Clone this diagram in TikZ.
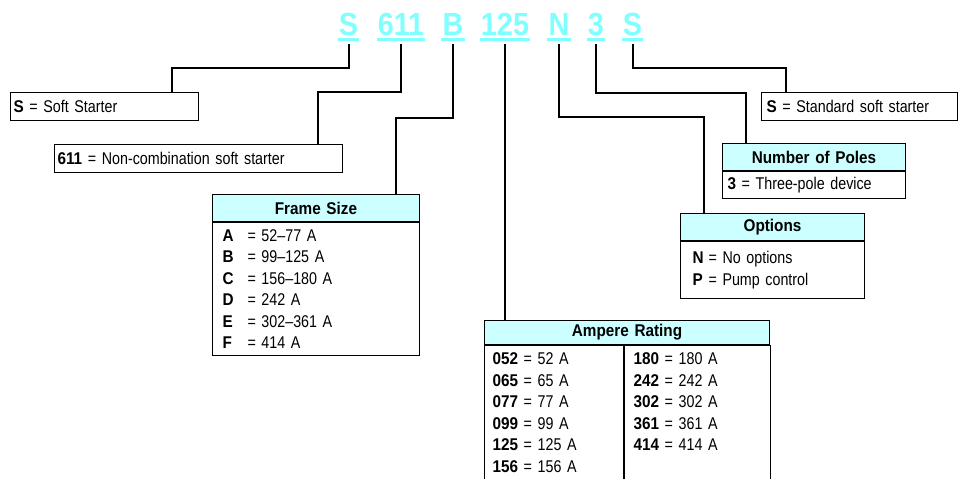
\documentclass[tikz,border=0pt]{standalone}
\usepackage{fontspec}
\setmainfont[UprightFeatures={FakeStretch=0.84},BoldFeatures={FakeStretch=0.9}]{Liberation Sans}
\usetikzlibrary{positioning}
\definecolor{codecyan}{RGB}{128,255,255}
\definecolor{headcyan}{RGB}{204,255,255}

\begin{document}
\begin{tikzpicture}[x=1pt,y=-1pt,
  code/.style={anchor=base,font=\fontsize{32}{32}\selectfont\bfseries,text=codecyan,inner xsep=1pt,inner ysep=4pt,text depth=0pt},
  uline/.style={draw=codecyan,line width=3pt},
  wire/.style={line width=2pt},
  onebox/.style={draw,line width=1pt,anchor=north west,inner ysep=0pt,align=left,font=\fontsize{17}{21.5}\selectfont},
  head/.style={draw,line width=1pt,fill=headcyan,inner sep=0pt,align=center,font=\fontsize{17}{21.5}\selectfont\bfseries},
  body/.style={draw,line width=1pt,inner ysep=0pt,align=left,font=\fontsize{17}{21.5}\selectfont}]
\useasboundingbox (0,0) rectangle (958,479);

\node[code] (cS) at (348.5,35) {S};
\node[code] (c611) at (401,35) {611};
\node[code] (cB) at (453,35) {B};
\node[code] (c125) at (505,35) {125};
\node[code] (cN) at (559,35) {N};
\node[code] (c3) at (596,35) {3};
\node[code] (cS2) at (632.5,35) {S};
\foreach \c in {cS,c611,cB,c125,cN,c3,cS2}
  \draw[uline] (\c.south west) -- (\c.south east);

\node[onebox,text width=182pt,inner xsep=3pt,minimum height=28pt] (boxS) at (10,92) {\textbf{S} = Soft Starter};
\node[onebox,text width=282pt,inner xsep=3pt,minimum height=28pt] (box611) at (54,144) {\textbf{611} = Non-combination soft starter};
\node[onebox,text width=186pt,inner xsep=5pt,minimum height=28pt] (boxS2) at (761,92) {\textbf{S} = Standard soft starter};

\node[head,anchor=north west,text width=207pt,minimum height=27pt] (frameH) at (212,194) {Frame Size};
\node[body,below=0pt of frameH,text width=187pt,inner xsep=10pt,minimum height=133pt] (frameB) {%
  \makebox[25pt][l]{\textbf{A}}= 52–77 A\\
  \makebox[25pt][l]{\textbf{B}}= 99–125 A\\
  \makebox[25pt][l]{\textbf{C}}= 156–180 A\\
  \makebox[25pt][l]{\textbf{D}}= 242 A\\
  \makebox[25pt][l]{\textbf{E}}= 302–361 A\\
  \makebox[25pt][l]{\textbf{F}}= 414 A};

\node[head,anchor=north west,text width=183pt,minimum height=27pt] (polesH) at (722,143) {Number of Poles};
\node[body,below=0pt of polesH,text width=173pt,inner xsep=5pt,minimum height=27pt] (polesB) {\textbf{3} = Three-pole device};

\node[head,anchor=north west,text width=184pt,minimum height=27pt] (optH) at (680,213) {Options};
\node[body,below=0pt of optH,text width=160pt,inner xsep=12pt,minimum height=57pt] (optB) {%
  \makebox[16pt][l]{\textbf{N}}= No options\\
  \makebox[16pt][l]{\textbf{P}}= Pump control\\[4pt]};

\node[head,anchor=north west,text width=285pt,minimum height=24pt] (ampH) at (484,320) {Ampere Rating};
\node[body,below right=0pt and 0pt of ampH.south west,text width=123pt,inner xsep=8pt,minimum height=156pt] (ampL) {%
  \textbf{052} = 52 A\\
  \textbf{065} = 65 A\\
  \textbf{077} = 77 A\\
  \textbf{099} = 99 A\\
  \textbf{125} = 125 A\\
  \textbf{156} = 156 A\\
  \mbox{}};
\node[body,right=0pt of ampL,text width=128pt,inner xsep=9pt,minimum height=156pt] (ampR) {%
  \textbf{180} = 180 A\\
  \textbf{242} = 242 A\\
  \textbf{302} = 302 A\\
  \textbf{361} = 361 A\\
  \textbf{414} = 414 A\\
  \mbox{}\\
  \mbox{}};

\coordinate (kS) at (172,68);
\coordinate (k611) at (318,92);
\coordinate (kB) at (396,118);
\coordinate (kN) at (704,117);
\coordinate (k3) at (746,93);
\coordinate (kS2) at (786,68);

\draw[wire] ([yshift=-5pt]cS.south) |- (kS) -- (kS |- boxS.north);
\draw[wire] ([yshift=-5pt]c611.south) |- (k611) -- (k611 |- box611.north);
\draw[wire] ([yshift=-5pt]cB.south) |- (kB) -- (kB |- frameH.north);
\draw[wire] ([yshift=-5pt]c125.south) -- (c125.south |- ampH.north);
\draw[wire] ([yshift=-5pt]cN.south) |- (kN) -- (kN |- optH.north);
\draw[wire] ([yshift=-5pt]c3.south) |- (k3) -- (k3 |- polesH.north);
\draw[wire] ([yshift=-5pt]cS2.south) |- (kS2) -- (kS2 |- boxS2.north);
\end{tikzpicture}
\end{document}
